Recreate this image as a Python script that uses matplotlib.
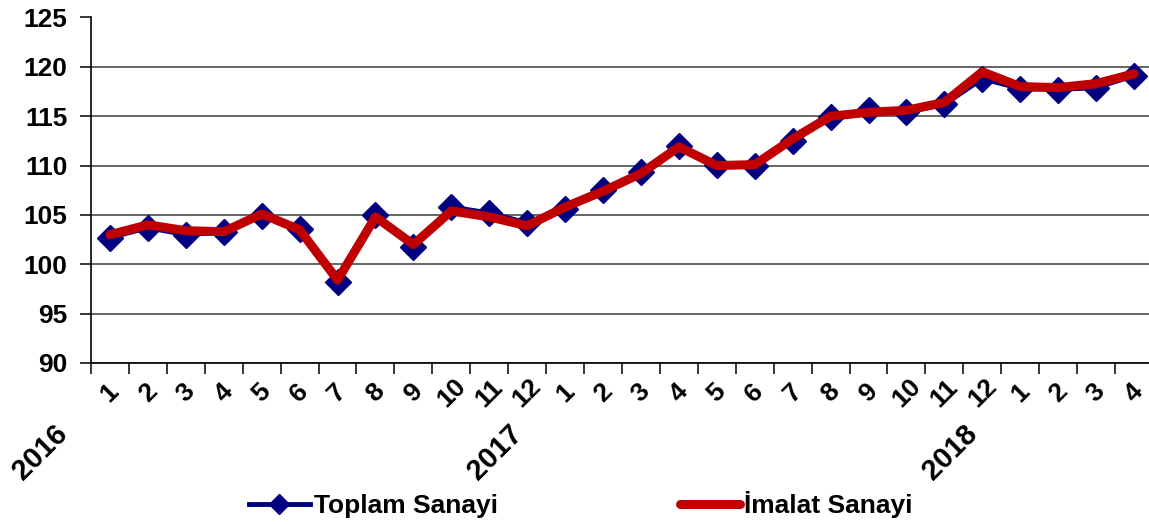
import matplotlib
matplotlib.use("Agg")
import matplotlib.pyplot as plt
import matplotlib.transforms as mtransforms

months = ["1", "2", "3", "4", "5", "6", "7", "8", "9", "10", "11", "12",
          "1", "2", "3", "4", "5", "6", "7", "8", "9", "10", "11", "12",
          "1", "2", "3", "4"]
years = ["2016", "2017", "2018"]
year_start = [1, 13, 25]

toplam = [102.7, 103.7, 103.0, 103.25, 104.9, 103.6, 98.2, 105.0, 101.8, 105.8,
          105.2, 104.2, 105.6, 107.5, 109.3, 112.0, 110.1, 110.0, 112.5, 114.9,
          115.6, 115.4, 116.2, 118.8, 117.8, 117.7, 117.9, 119.1]
imalat = [103.0, 104.0, 103.4, 103.3, 105.1, 103.5, 98.4, 104.8, 102.0, 105.4,
          104.8, 103.9, 105.8, 107.4, 109.2, 111.9, 110.0, 110.1, 112.7, 115.0,
          115.4, 115.6, 116.4, 119.5, 118.0, 117.9, 118.3, 119.3]
series_names = ["Toplam Sanayi", "İmalat Sanayi"]

plt.rcParams['font.family'] = ['Liberation Sans', 'DejaVu Sans']
plt.rcParams['font.weight'] = 'bold'
FS = 19

W, H = 1149, 524
fig = plt.figure(figsize=(W / 100, H / 100), dpi=100)
fig.patch.set_facecolor('white')
ax = fig.add_axes([91 / W, (H - 363) / H, (1153 - 91) / W, (363 - 17.5) / H])

x = list(range(1, len(months) + 1))

ax.plot(x, toplam, color='#000080', lw=3.5, marker='D', ms=13,
        markeredgecolor='#000080', label=series_names[0], zorder=3)
ax.plot(x, imalat, color='#C00000', lw=6.5, label=series_names[1], zorder=4,
        solid_capstyle='round', solid_joinstyle='round')

ax.set_ylim(90, 125)
ax.set_xlim(0.5, len(months) + 0.5)
ax.set_yticks(range(90, 126, 5))
ax.yaxis.grid(True, color='#3a3a3a', lw=1.1)
ax.set_axisbelow(True)
for s in ['top', 'right']:
    ax.spines[s].set_visible(False)
ax.spines['left'].set_linewidth(1.2)
ax.spines['bottom'].set_linewidth(1.2)

ax.set_xticks([i + 0.5 for i in range(0, len(months) + 1)])
ax.set_xticklabels([])
ax.tick_params(axis='x', length=8, width=1.1, direction='out')
ax.tick_params(axis='y', length=8, width=1.1, direction='out', pad=9,
               labelsize=FS)

# month labels and year labels
trans = mtransforms.blended_transform_factory(ax.transData, fig.transFigure)
for xi, m in zip(x, months):
    ax.text(xi, 1 - 393 / H, m, transform=trans, rotation=45, ha='center',
            va='center', fontsize=FS, fontweight='bold')
for xs, y in zip(year_start, years):
    ax.text(xs - 1.85, 1 - 452 / H, y, transform=trans, rotation=45,
            ha='center', va='center', fontsize=21, fontweight='bold')

fig.legend(loc='center', bbox_to_anchor=(581 / W, 19 / H), ncol=2,
           frameon=False, handlelength=2.3, handletextpad=0.15,
           columnspacing=6.9, numpoints=1, markerscale=0.8,
           prop={'weight': 'bold', 'size': FS})

fig.savefig('out.png', dpi=100, facecolor='white')
